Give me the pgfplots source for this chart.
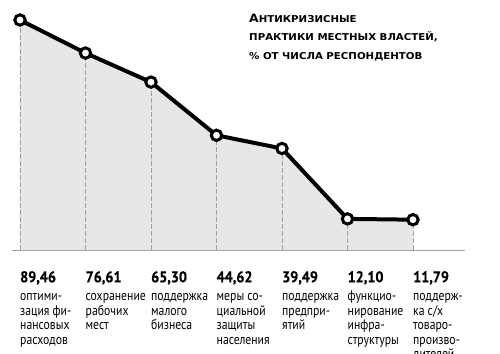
\documentclass[border=0pt]{standalone}
\usepackage{pgfplots}
\pgfplotsset{compat=1.18}
\usepackage{fontspec}
\setmainfont{PT Sans}
\newfontfamily\descfont[FakeStretch=0.84]{PT Sans}
\newfontfamily\titlefont[FakeStretch=1.08]{DejaVu Sans Bold}
\newfontfamily\valfont[FakeBold=0.6,FakeStretch=0.92]{PT Sans Bold}
\definecolor{areagray}{HTML}{E6E7E8}
\definecolor{dashgray}{HTML}{A0A0A0}
\newcommand{\lab}[2]{{\fontsize{15.5}{14.5}\valfont #1}\\[4bp]#2}
\begin{document}
\begin{tikzpicture}
\begin{axis}[
 at={(0,0)}, anchor=south west,
 scale only axis, width=453bp, height=230bp,
 xmin=-0.122, xmax=6.794, ymin=0, ymax=89.46,
 axis x line=bottom, axis y line=none,
 x axis line style={-, draw=dashgray, line width=0.8bp},
 ytick=\empty,
 xtick=data,
 major tick length=0pt,
 xticklabels={
  {\lab{89,46}{оптими-\\зация фи-\\нансовых\\расходов}},
  {\lab{76,61}{сохранение\\рабочих\\мест}},
  {\lab{65,30}{поддержка\\малого\\бизнеса}},
  {\lab{44,62}{меры со-\\циальной\\защиты\\населения}},
  {\lab{39,49}{поддержка\\предпри-\\ятий}},
  {\lab{12,10}{функцио-\\нирование\\инфра-\\структуры}},
  {\lab{11,79}{поддерж-\\ка с/х\\товаро-\\произво-\\дителей}}
 },
 xticklabel style={anchor=north west, inner sep=0pt, align=left, yshift=-21bp, font=\descfont\fontsize{14}{14.5}\selectfont},
 clip=false,
]
\addplot[fill=areagray, draw=none] coordinates {(0,89.46) (1,76.61) (2,65.30) (3,44.62) (4,39.49) (5,12.10) (6,11.79)} \closedcycle;
\addplot[ycomb, draw=dashgray, line width=0.8bp, dash pattern=on 5bp off 2bp] coordinates {(0,89.46) (1,76.61) (2,65.30) (3,44.62) (4,39.49) (5,12.10) (6,11.79)};
\addplot[black, line width=4bp, mark=*, mark size=5.2bp, mark options={fill=white, draw=black, line width=3bp}] coordinates {(0,89.46) (1,76.61) (2,65.30) (3,44.62) (4,39.49) (5,12.10) (6,11.79)};
\end{axis}
\node[anchor=north west, inner sep=0pt, align=left, font=\titlefont\fontsize{9.5}{18.5}\selectfont] at (237bp,236bp) {{\fontsize{11.5}{18.5}\selectfont А}НТИКРИЗИСНЫЕ\\ПРАКТИКИ МЕСТНЫХ ВЛАСТЕЙ,\\\% ОТ ЧИСЛА РЕСПОНДЕНТОВ};
\pgfresetboundingbox
\path (-12bp,-104bp) rectangle (488bp,250bp);
\end{tikzpicture}
\end{document}
